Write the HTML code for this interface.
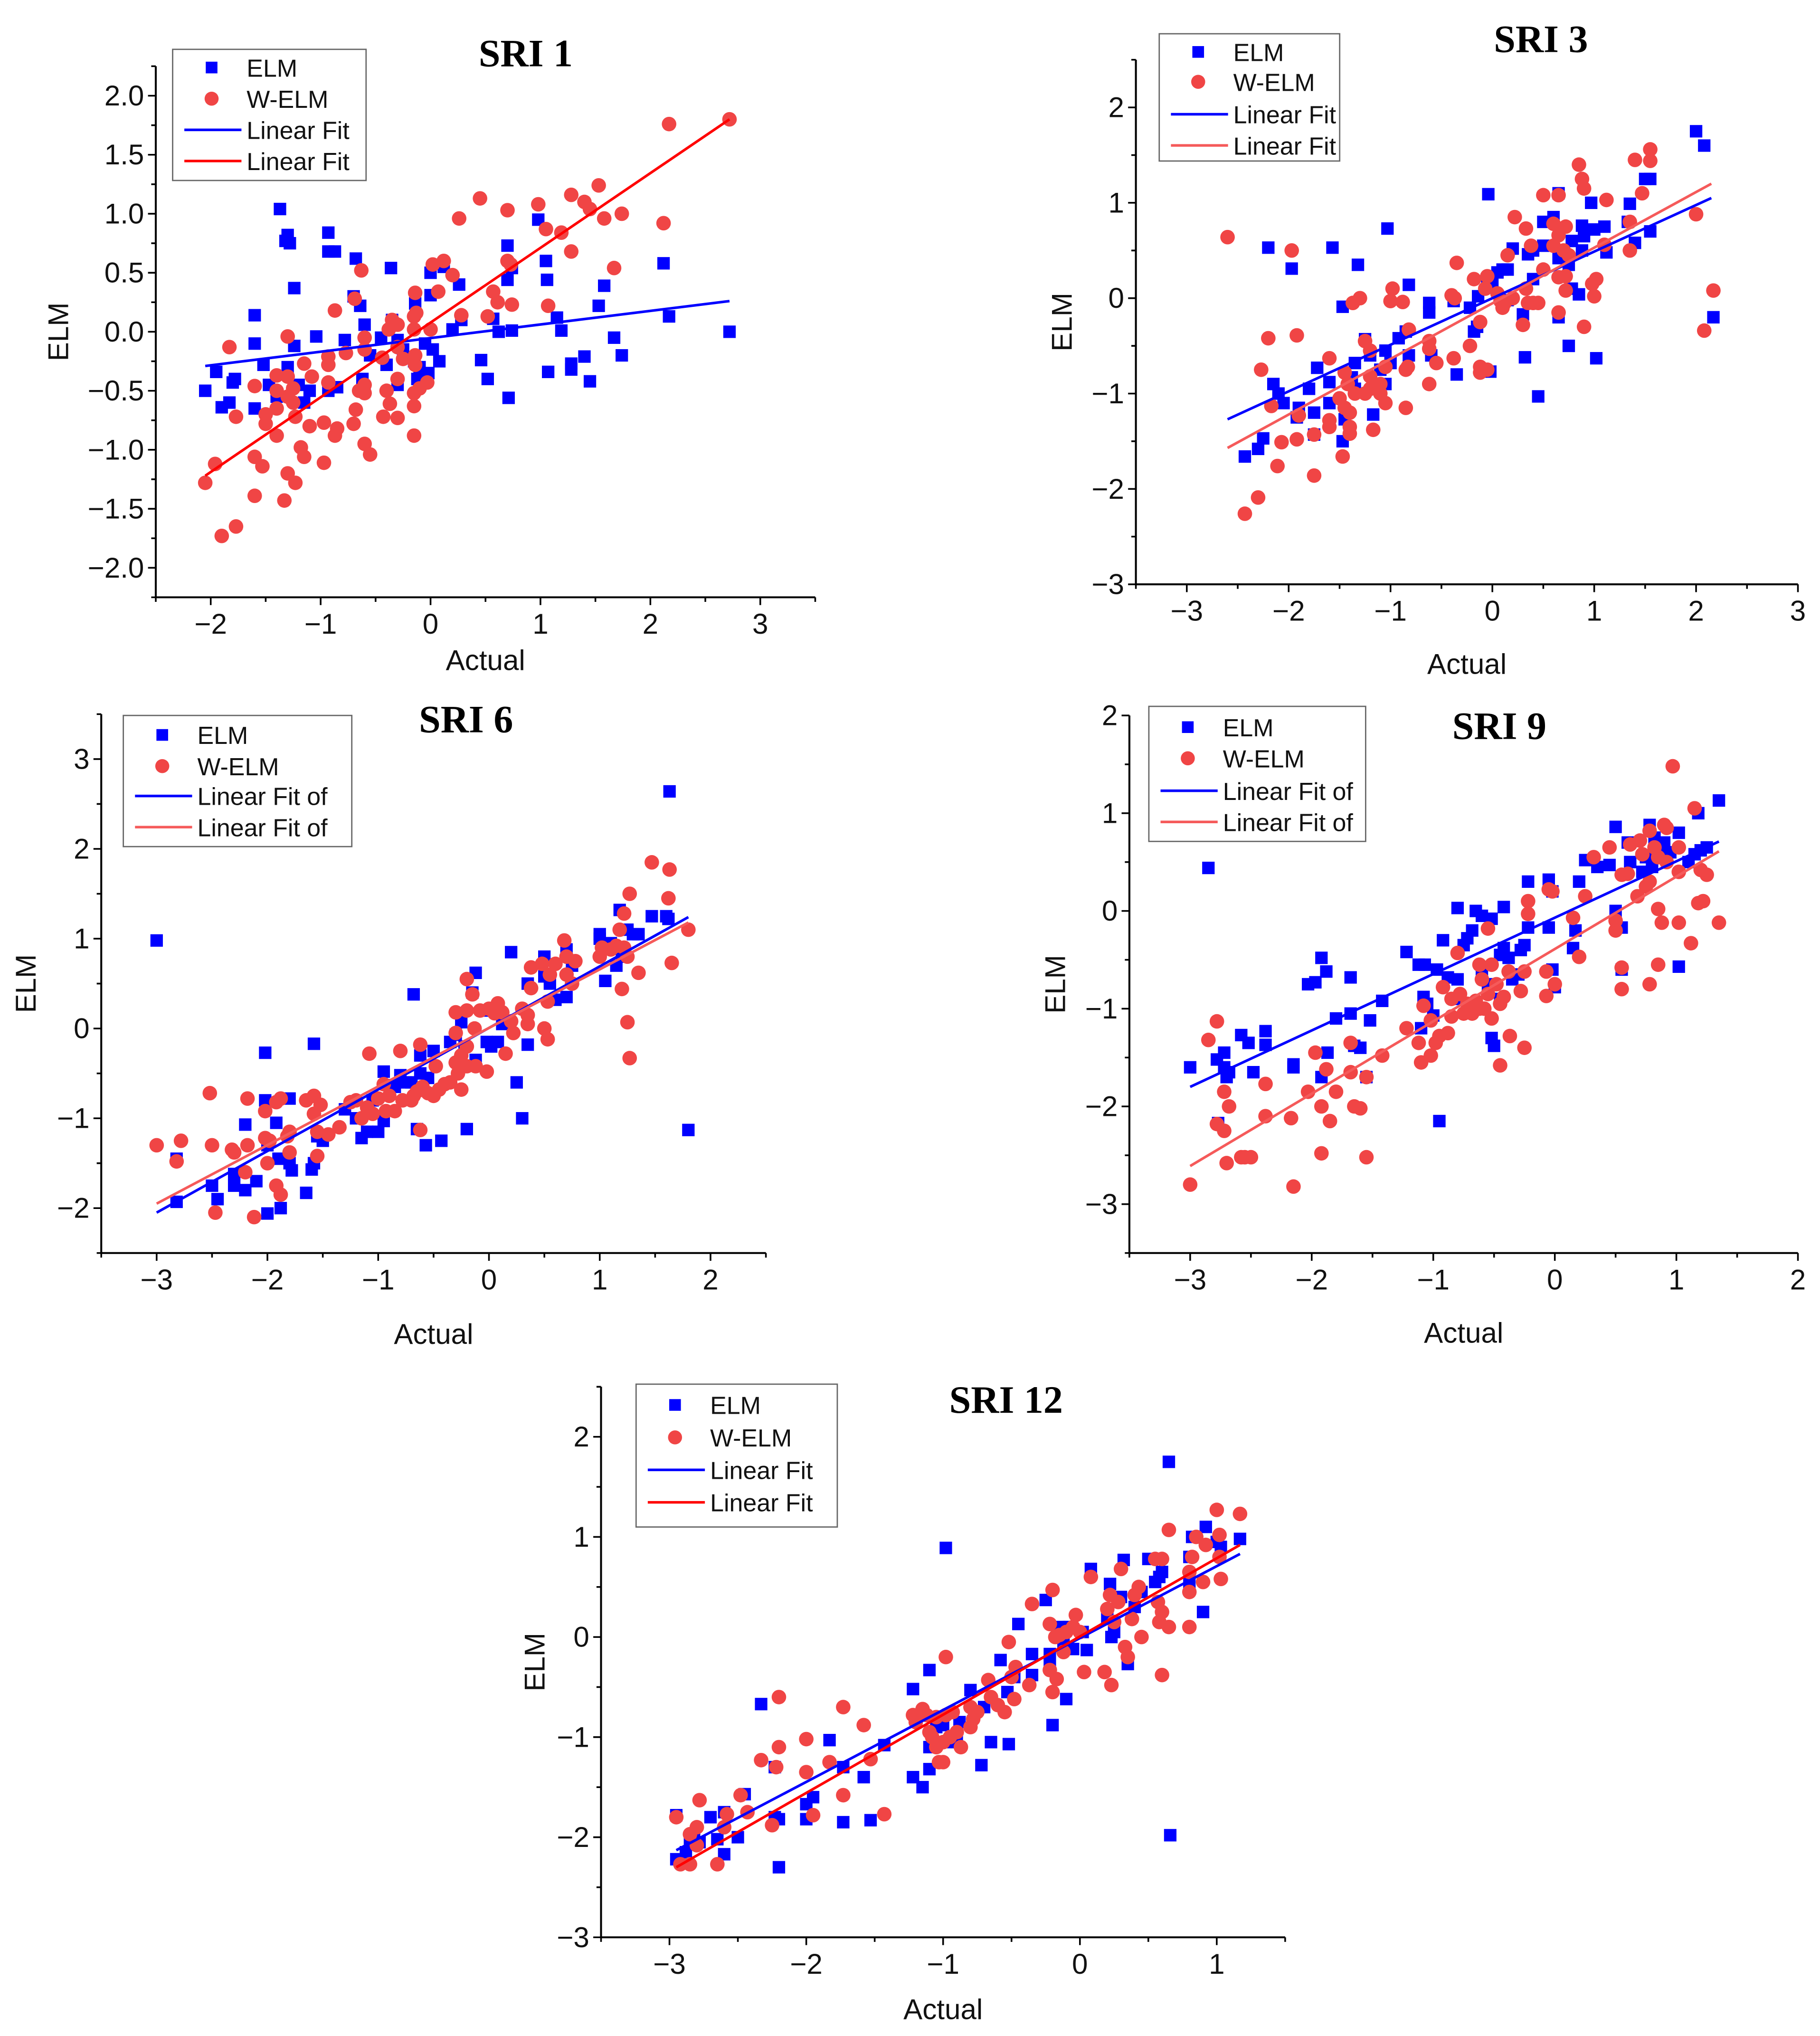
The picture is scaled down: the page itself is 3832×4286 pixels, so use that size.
<!DOCTYPE html>
<html><head><meta charset="utf-8"><style>
html,body{margin:0;padding:0;background:#fff;}
svg{display:block;}
</style></head><body>
<svg id="fig" xmlns="http://www.w3.org/2000/svg" width="3832" height="4286" viewBox="0 0 1402 1568" preserveAspectRatio="none"></svg>
<script>
// ---------- DATA ----------
const sri1Elm=[[-1.37,1.04],[-1.3,0.82],[-1.32,0.77],[-1.28,0.75],[-0.93,0.84],[-0.93,0.68],[-0.87,0.68],[-0.68,0.62],[-0.36,0.54],[-1.24,0.37],[-0.7,0.3],[-0.64,0.22],[-0.6,0.06],[-1.6,0.14],[-1.6,-0.1],[-1.04,-0.04],[-0.78,-0.07],[-1.24,-0.12],[-1.3,-0.3],[-1.52,-0.28],[-1.95,-0.34],[-1.78,-0.4],[-1.8,-0.43],[-2.05,-0.5],[-1.9,-0.64],[-1.83,-0.6],[-1.6,-0.65],[-1.47,-0.45],[-1.4,-0.55],[-1.2,-0.45],[-1.1,-0.5],[-0.93,-0.5],[-0.85,-0.47],[-0.6,-0.47],[-0.62,-0.4],[-0.4,-0.28],[-0.45,-0.05],[-0.3,-0.07],[-0.25,-0.15],[-0.35,0.1],[-0.14,0.24],[-0.12,-0.4],[-0.02,-0.35],[-0.1,-0.3],[0,0.5],[0,0.31],[0.12,0.55],[0.26,0.4],[0.28,0.1],[0.2,0.02],[0.02,-0.15],[0.08,-0.25],[0.46,-0.24],[0.52,-0.4],[0.57,0.11],[0.62,0],[0.7,0.73],[0.7,0.44],[0.74,0.54],[0.74,0.01],[0.71,-0.56],[0.98,0.95],[1.05,0.6],[1.06,0.44],[1.15,0.12],[1.19,0.01],[1.07,-0.34],[1.28,-0.27],[1.28,-0.32],[1.4,-0.21],[1.45,-0.42],[1.53,0.22],[1.58,0.39],[1.67,-0.05],[1.74,-0.2],[2.12,0.58],[2.17,0.13],[2.72,0],[-0.3,-0.45],[-0.15,-0.25],[-1.15,-0.6],[-0.05,-0.1],[-0.55,-0.2]];
const sri1Welm=[[2.72,1.8],[2.17,1.76],[1.53,1.24],[1.28,1.16],[1.4,1.1],[1.45,1.04],[1.58,0.96],[1.74,1.0],[2.12,0.92],[0.98,1.08],[0.7,1.03],[0.45,1.13],[0.26,0.96],[1.05,0.87],[1.19,0.84],[1.28,0.68],[1.67,0.54],[0.7,0.6],[0.73,0.57],[0.02,0.57],[0.12,0.6],[0.2,0.48],[-0.63,0.52],[-0.14,0.33],[0.07,0.34],[0.57,0.34],[0.61,0.25],[0.74,0.23],[1.07,0.22],[0.52,0.13],[0.28,0.14],[-0.69,0.28],[-0.87,0.18],[-0.15,0.13],[-0.13,0.16],[-0.35,0.1],[-0.3,0.06],[-0.38,0.02],[0,0.02],[-0.15,0.02],[-1.83,-0.13],[-1.3,-0.04],[-0.6,-0.05],[-0.6,-0.15],[-0.77,-0.18],[-0.3,-0.13],[-0.93,-0.21],[-1.15,-0.27],[-0.93,-0.28],[-0.44,-0.22],[-0.25,-0.23],[-0.14,-0.2],[-0.14,-0.28],[-1.4,-0.37],[-1.3,-0.38],[-1.08,-0.38],[-0.93,-0.43],[-1.6,-0.46],[-1.4,-0.5],[-1.25,-0.48],[-1.3,-0.55],[-1.25,-0.6],[-0.6,-0.45],[-0.6,-0.52],[-0.65,-0.5],[-0.4,-0.5],[-0.3,-0.4],[-0.15,-0.52],[-0.1,-0.48],[-0.03,-0.43],[-0.37,-0.61],[-0.15,-0.63],[-1.4,-0.65],[-1.5,-0.7],[-1.77,-0.72],[-1.23,-0.72],[-0.68,-0.66],[-0.43,-0.72],[-0.3,-0.73],[-1.5,-0.78],[-0.7,-0.78],[-0.97,-0.77],[-1.1,-0.8],[-0.85,-0.82],[-0.87,-0.88],[-1.4,-0.88],[-0.15,-0.88],[-1.18,-0.98],[-1.15,-1.06],[-0.6,-0.95],[-0.55,-1.04],[-1.6,-1.06],[-1.53,-1.14],[-0.97,-1.11],[-1.96,-1.12],[-2.05,-1.28],[-1.3,-1.2],[-1.23,-1.28],[-1.6,-1.39],[-1.33,-1.43],[-1.77,-1.65],[-1.9,-1.73]];
const sri1FitElm=[[-2.05,-0.29],[2.72,0.26]];
const sri1FitWelm=[[-2.05,-1.22],[2.72,1.8]];

const sri3Elm=[[2.0,1.75],[2.08,1.6],[1.5,1.25],[1.55,1.25],[1.35,0.99],[0.97,1.0],[-0.04,1.09],[0.65,1.1],[0.5,0.8],[0.6,0.85],[0.88,0.76],[1.1,0.75],[1.0,0.72],[0.9,0.65],[1.33,0.8],[1.55,0.7],[1.4,0.58],[1.12,0.48],[0.78,0.6],[0.88,0.5],[-1.03,0.73],[-2.2,0.53],[-1.57,0.53],[-1.97,0.31],[-1.32,0.35],[-0.82,0.14],[0.2,0.52],[0.35,0.46],[0.5,0.55],[0.4,0.5],[0.75,0.35],[0.65,0.42],[0.1,0.3],[0.15,0.3],[0.05,0.27],[0.4,0.2],[0.78,0.1],[0.85,0.04],[-0.05,0.2],[0.0,0.15],[-0.14,0.02],[-1.47,-0.09],[-0.62,-0.05],[-0.62,-0.15],[-0.38,-0.03],[-0.22,-0.1],[0.15,-0.02],[0.3,-0.17],[0.65,-0.2],[-0.18,-0.35],[-0.15,-0.3],[-1.25,-0.43],[-1.05,-0.55],[-0.92,-0.42],[-0.85,-0.35],[-0.82,-0.6],[-0.6,-0.6],[-1.2,-0.6],[-1.35,-0.68],[-1.72,-0.73],[-1.8,-0.95],[-1.6,-0.88],[-1.38,-0.83],[-1.1,-0.75],[-1.0,-0.68],[-2.15,-0.9],[-2.1,-1.0],[-2.05,-1.1],[-1.9,-1.15],[-1.6,-1.1],[-1.75,-1.2],[-1.17,-1.22],[-1.92,-1.25],[-1.45,-1.27],[-1.75,-1.43],[-1.47,-1.5],[-2.25,-1.47],[-2.3,-1.58],[-2.43,-1.66],[-0.35,-0.8],[-0.02,-0.77],[0.32,-0.62],[0.45,-1.03],[1.02,-0.63],[0.75,-0.5],[2.17,-0.2],[-1.35,-0.95],[-1.05,-0.9]];
const sri3Welm=[[-2.6,0.64],[-1.97,0.5],[-2.2,-0.42],[-1.92,-0.39],[-2.27,-0.75],[-2.17,-1.13],[-1.9,-1.23],[-1.92,-1.48],[-2.07,-1.51],[-2.11,-1.76],[-1.75,-1.86],[-2.3,-2.09],[-2.43,-2.26],[-1.47,-1.66],[-1.75,-1.43],[-1.6,-1.35],[-1.6,-1.28],[-1.4,-1.42],[-1.4,-1.35],[-1.17,-1.38],[-1.5,-1.05],[-1.45,-1.15],[-1.4,-1.2],[-1.42,-0.9],[-1.35,-1.0],[-1.2,-0.95],[-1.25,-1.0],[-1.1,-1.0],[-1.05,-1.1],[-0.85,-1.15],[-1.1,-0.9],[-1.05,-0.72],[-0.85,-0.75],[-0.83,-0.72],[-1.2,-0.82],[-1.25,-0.45],[-1.2,-0.55],[-1.6,-0.63],[-1.45,-0.78],[-0.82,-0.33],[-0.62,-0.45],[-0.62,-0.53],[-0.55,-0.68],[-0.62,-0.9],[-0.38,-0.63],[-0.22,-0.5],[-0.12,-0.25],[-0.12,-0.72],[-0.05,-0.75],[-0.12,-0.78],[-1.37,-0.05],[-1.3,0.0],[-0.98,0.1],[-1.0,-0.03],[-0.88,-0.04],[-0.35,0.37],[-0.4,0.03],[-0.37,0.0],[-0.18,0.2],[-0.05,0.23],[-0.07,0.1],[0.05,0.05],[0.08,-0.03],[0.1,-0.1],[0.12,-0.05],[0.2,0.0],[0.15,0.45],[0.22,0.85],[0.33,0.73],[0.38,0.55],[0.33,0.1],[0.35,-0.05],[0.4,-0.05],[0.45,-0.05],[0.3,-0.28],[0.5,0.3],[0.5,1.08],[0.65,1.08],[0.6,0.78],[0.65,0.66],[0.7,0.5],[0.72,0.75],[0.75,0.45],[0.6,0.55],[0.65,0.22],[0.72,0.23],[0.72,0.08],[0.65,-0.15],[0.9,-0.3],[0.85,1.4],[0.88,1.25],[0.9,1.15],[1.12,1.03],[0.98,0.15],[1.0,0.02],[1.02,0.2],[1.1,0.56],[1.35,0.8],[1.35,0.5],[1.4,1.45],[1.47,1.1],[1.55,1.44],[1.55,1.56],[2.0,0.88],[2.08,-0.34],[2.17,0.08]];
const sri3FitElm=[[-2.6,-1.27],[2.15,1.05]];
const sri3FitWelm=[[-2.6,-1.57],[2.15,1.2]];

const sri6Elm=[[-3,0.98],[-2.82,-1.45],[-2.82,-1.93],[-2.5,-1.75],[-2.45,-1.9],[-2.3,-1.62],[-2.3,-1.75],[-2.2,-1.8],[-2.2,-1.07],[-2.1,-1.7],[-2.02,-0.27],[-2.02,-0.8],[-2.0,-1.3],[-2.0,-2.06],[-1.92,-1.05],[-1.9,-1.45],[-1.88,-2.0],[-1.8,-0.78],[-1.8,-1.5],[-1.78,-1.58],[-1.65,-1.83],[-1.6,-1.57],[-1.58,-1.5],[-1.58,-0.17],[-1.55,-1.2],[-1.5,-1.25],[-1.3,-0.9],[-1.2,-1.0],[-1.15,-1.22],[-1.1,-1.15],[-1.05,-0.8],[-1.0,-1.15],[-0.95,-1.03],[-0.95,-0.48],[-0.9,-0.63],[-0.85,-0.65],[-0.8,-0.52],[-0.75,-0.6],[-0.7,-0.6],[-0.68,0.38],[-0.65,-1.12],[-0.62,-0.3],[-0.62,-0.5],[-0.57,-1.3],[-0.55,-0.55],[-0.5,-0.25],[-0.43,-1.25],[-0.35,-0.15],[-0.3,-0.07],[-0.25,0.07],[-0.22,-0.2],[-0.2,-1.12],[-0.15,0.4],[-0.12,0.62],[-0.12,-0.35],[-0.05,0.2],[-0.02,-0.15],[0.02,-0.2],[0.08,-0.15],[0.12,0.05],[0.2,0.85],[0.25,-0.6],[0.3,-1.0],[0.35,-0.18],[0.35,0.5],[0.5,0.8],[0.5,0.58],[0.55,0.5],[0.6,0.32],[0.7,0.35],[0.7,0.88],[0.75,0.7],[1.0,1.0],[1.0,1.05],[1.05,0.53],[1.1,0.95],[1.15,0.7],[1.18,1.32],[1.2,0.8],[1.25,1.1],[1.3,1.05],[1.35,1.05],[1.47,1.25],[1.6,1.25],[1.62,1.22],[1.63,2.64],[1.8,-1.13]];
const sri6Welm=[[-3,-1.3],[-2.82,-1.48],[-2.78,-1.25],[-2.52,-0.72],[-2.5,-1.3],[-2.47,-2.05],[-2.32,-1.35],[-2.3,-1.38],[-2.18,-0.78],[-2.18,-1.3],[-2.2,-1.6],[-2.12,-2.1],[-2.02,-0.92],[-2.02,-1.22],[-2.0,-1.5],[-1.98,-1.25],[-1.92,-0.82],[-1.88,-0.78],[-1.92,-1.75],[-1.88,-1.85],[-1.82,-1.2],[-1.8,-1.15],[-1.8,-1.38],[-1.65,-0.8],[-1.58,-0.75],[-1.58,-0.95],[-1.55,-1.15],[-1.55,-1.42],[-1.52,-0.85],[-1.45,-1.18],[-1.35,-1.1],[-1.25,-0.82],[-1.2,-0.8],[-1.15,-1.0],[-1.1,-0.88],[-1.08,-0.28],[-1.05,-0.95],[-1.0,-0.78],[-0.95,-0.62],[-0.93,-0.92],[-0.9,-0.75],[-0.85,-0.92],[-0.8,-0.25],[-0.78,-0.8],[-0.7,-0.8],[-0.68,-0.75],[-0.65,-0.7],[-0.62,-0.18],[-0.62,-1.13],[-0.6,-0.65],[-0.55,-0.72],[-0.5,-0.75],[-0.48,-0.42],[-0.45,-0.68],[-0.4,-0.62],[-0.35,-0.6],[-0.3,-0.38],[-0.3,0.18],[-0.3,-0.05],[-0.28,-0.5],[-0.25,-0.68],[-0.25,-0.3],[-0.2,-0.42],[-0.2,-0.2],[-0.2,0.2],[-0.2,0.55],[-0.15,0.38],[-0.13,0.0],[-0.12,-0.42],[-0.08,0.2],[-0.02,-0.48],[0.0,0.22],[0.05,0.17],[0.08,0.28],[0.12,0.18],[0.15,-0.28],[0.2,0.08],[0.22,-0.05],[0.3,0.22],[0.35,0.15],[0.35,0.05],[0.38,0.45],[0.38,0.68],[0.48,0.72],[0.5,0.0],[0.53,-0.12],[0.53,0.3],[0.55,0.6],[0.6,0.72],[0.68,0.98],[0.7,0.8],[0.7,0.6],[0.75,0.5],[0.78,0.75],[1.0,0.8],[1.02,0.9],[1.1,0.88],[1.15,0.92],[1.18,1.1],[1.2,0.44],[1.22,1.28],[1.22,0.9],[1.25,0.8],[1.25,0.07],[1.27,-0.33],[1.27,1.5],[1.35,0.62],[1.47,1.85],[1.62,1.45],[1.63,1.77],[1.65,0.73],[1.8,1.1]];
const sri6FitElm=[[-3,-2.05],[1.8,1.24]];
const sri6FitWelm=[[-3,-1.95],[1.8,1.18]];

const sri9Elm=[[-2.85,0.44],[-3,-1.6],[-2.78,-1.52],[-2.72,-1.45],[-2.72,-1.6],[-2.7,-1.7],[-2.68,-1.65],[-2.58,-1.27],[-2.52,-1.35],[-2.48,-1.65],[-2.38,-1.23],[-2.38,-1.37],[-2.77,-2.17],[-2.15,-1.57],[-2.15,-1.6],[-2.03,-0.75],[-1.97,-0.73],[-1.92,-0.48],[-1.88,-0.62],[-1.87,-1.45],[-1.92,-1.7],[-1.8,-1.1],[-1.68,-0.68],[-1.68,-1.05],[-1.65,-1.38],[-1.6,-1.4],[-1.55,-1.7],[-1.52,-1.12],[-1.42,-0.92],[-1.22,-0.42],[-1.12,-0.55],[-1.07,-0.55],[-1.08,-0.88],[-1.1,-1.2],[-1.05,-0.95],[-1.0,-1.07],[-0.97,-0.6],[-0.95,-2.15],[-0.92,-0.3],[-0.88,-0.68],[-0.8,0.03],[-0.8,-0.7],[-0.78,-0.9],[-0.75,-0.35],[-0.72,-0.28],[-0.68,-0.2],[-0.65,0.0],[-0.6,-0.05],[-0.6,-0.6],[-0.55,-0.75],[-0.52,-0.08],[-0.52,-1.3],[-0.5,-1.38],[-0.45,-0.45],[-0.45,-0.9],[-0.42,0.04],[-0.42,-0.38],[-0.38,-0.48],[-0.35,-0.7],[-0.3,-0.65],[-0.28,-0.4],[-0.25,-0.35],[-0.22,0.3],[-0.22,-0.17],[-0.05,0.32],[-0.05,-0.17],[-0.02,0.2],[-0.02,-0.6],[0.0,-0.78],[0.15,-0.38],[0.17,-0.2],[0.2,0.3],[0.25,0.52],[0.35,0.45],[0.45,0.47],[0.5,0.0],[0.5,0.86],[0.55,-0.17],[0.55,-0.6],[0.6,0.7],[0.62,0.5],[0.72,0.4],[0.75,0.55],[0.78,0.88],[0.8,0.45],[0.82,0.75],[0.88,0.6],[0.9,0.7],[0.95,0.6],[1.02,0.8],[1.02,-0.57],[1.1,0.5],[1.15,0.58],[1.18,1.0],[1.2,0.62],[1.25,0.65],[1.35,1.13]];
const sri9Welm=[[-3,-2.8],[-2.85,-1.32],[-2.78,-1.13],[-2.72,-1.85],[-2.68,-2.0],[-2.78,-2.18],[-2.72,-2.25],[-2.7,-2.58],[-2.58,-2.52],[-2.55,-2.52],[-2.5,-2.52],[-2.38,-1.77],[-2.38,-2.1],[-2.17,-2.12],[-2.15,-2.82],[-2.03,-1.85],[-1.97,-1.45],[-1.92,-2.0],[-1.92,-2.48],[-1.88,-1.62],[-1.85,-2.15],[-1.8,-1.85],[-1.68,-1.35],[-1.68,-1.65],[-1.65,-2.0],[-1.6,-2.02],[-1.55,-1.7],[-1.55,-2.52],[-1.42,-1.48],[-1.22,-1.2],[-1.12,-1.35],[-1.1,-1.55],[-1.08,-0.97],[-1.02,-1.12],[-1.02,-1.48],[-0.98,-1.35],[-0.95,-1.28],[-0.92,-0.78],[-0.88,-1.25],[-0.85,-0.9],[-0.85,-1.08],[-0.8,-0.43],[-0.78,-0.85],[-0.75,-1.05],[-0.72,-0.95],[-0.68,-1.05],[-0.65,-0.92],[-0.62,-0.55],[-0.62,-1.0],[-0.6,-0.7],[-0.58,-1.0],[-0.55,-0.18],[-0.55,-0.85],[-0.52,-0.55],[-0.52,-1.1],[-0.48,-0.75],[-0.45,-0.95],[-0.45,-1.58],[-0.42,-0.88],[-0.38,-0.62],[-0.37,-1.28],[-0.28,-0.82],[-0.25,-0.62],[-0.25,-1.4],[-0.22,-0.03],[-0.22,0.1],[-0.07,-0.62],[-0.07,-0.87],[-0.05,0.22],[-0.02,0.2],[0.0,-0.75],[0.15,-0.07],[0.2,-0.47],[0.25,0.15],[0.32,0.55],[0.45,0.65],[0.5,-0.1],[0.5,-0.2],[0.55,0.37],[0.55,-0.58],[0.55,-0.8],[0.6,0.38],[0.62,0.68],[0.68,0.15],[0.7,0.72],[0.72,0.58],[0.75,0.25],[0.78,0.82],[0.78,0.3],[0.78,-0.75],[0.82,0.65],[0.85,0.55],[0.85,0.02],[0.85,-0.55],[0.88,-0.12],[0.9,0.88],[0.92,0.85],[0.92,0.5],[0.97,1.48],[1.02,0.65],[1.02,0.4],[1.02,-0.12],[1.12,-0.33],[1.15,1.05],[1.18,0.08],[1.2,0.42],[1.22,0.1],[1.25,0.37],[1.35,-0.12]];
const sri9FitElm=[[-3,-1.8],[1.35,0.71]];
const sri9FitWelm=[[-3,-2.61],[1.35,0.61]];

const sri12Elm=[[-2.95,-1.78],[-2.95,-2.22],[-2.88,-2.15],[-2.85,-2.05],[-2.82,-1.98],[-2.78,-2.05],[-2.7,-1.8],[-2.65,-2.02],[-2.6,-1.75],[-2.6,-2.17],[-2.5,-2.0],[-2.45,-1.57],[-2.33,-0.67],[-2.23,-1.3],[-2.23,-1.8],[-2.2,-1.82],[-2.2,-2.3],[-2.0,-1.67],[-2.0,-1.82],[-1.95,-1.6],[-1.83,-1.03],[-1.73,-1.3],[-1.73,-1.85],[-1.58,-1.4],[-1.53,-1.83],[-1.43,-1.08],[-1.22,-0.52],[-1.22,-1.4],[-1.15,-1.5],[-1.1,-0.33],[-1.1,-1.1],[-1.1,-1.32],[-1.05,-0.9],[-1.0,-0.88],[-0.98,-1.05],[-0.98,0.89],[-0.9,-1.05],[-0.88,-0.85],[-0.8,-0.53],[-0.72,-1.28],[-0.7,-0.7],[-0.65,-1.05],[-0.58,-0.23],[-0.53,-0.55],[-0.52,-1.07],[-0.48,-0.4],[-0.45,0.13],[-0.35,-0.38],[-0.35,-0.17],[-0.25,0.37],[-0.22,-0.25],[-0.22,-0.17],[-0.2,-0.88],[-0.15,0.1],[-0.12,-0.05],[-0.1,-0.62],[-0.08,0.1],[-0.05,-0.12],[0.02,0.05],[0.05,-0.13],[0.08,0.68],[0.2,0.2],[0.22,0.53],[0.23,0.0],[0.25,0.05],[0.3,0.4],[0.32,0.77],[0.35,-0.27],[0.4,0.3],[0.45,0.45],[0.5,0.78],[0.55,0.55],[0.58,0.6],[0.6,0.65],[0.65,1.75],[0.66,-1.98],[0.8,0.55],[0.8,0.8],[0.82,1.0],[0.9,0.25],[0.92,1.1],[1.0,0.95],[1.03,0.9],[1.17,0.98]];
const sri12Welm=[[-2.95,-1.8],[-2.92,-2.27],[-2.85,-2.27],[-2.85,-1.97],[-2.8,-1.9],[-2.8,-2.08],[-2.78,-1.63],[-2.65,-2.27],[-2.6,-1.9],[-2.58,-1.77],[-2.48,-1.58],[-2.43,-1.75],[-2.33,-1.23],[-2.25,-1.88],[-2.22,-1.3],[-2.2,-1.1],[-2.2,-0.6],[-2.0,-1.02],[-2.0,-1.35],[-1.95,-1.78],[-1.83,-1.25],[-1.73,-0.7],[-1.73,-1.58],[-1.58,-0.88],[-1.53,-1.22],[-1.43,-1.77],[-1.22,-0.78],[-1.2,-0.85],[-1.15,-0.72],[-1.12,-0.78],[-1.1,-0.95],[-1.08,-1.0],[-1.05,-0.8],[-1.05,-1.1],[-1.03,-1.25],[-1.0,-1.05],[-1.0,-1.25],[-0.98,-0.78],[-0.98,-0.2],[-0.95,-1.0],[-0.93,-0.75],[-0.9,-0.95],[-0.87,-1.1],[-0.8,-0.7],[-0.8,-0.9],[-0.78,-0.82],[-0.75,-0.75],[-0.67,-0.43],[-0.65,-0.6],[-0.6,-0.68],[-0.55,-0.75],[-0.52,-0.05],[-0.5,-0.4],[-0.48,-0.62],[-0.47,-0.3],[-0.37,-0.48],[-0.35,0.33],[-0.22,0.13],[-0.22,-0.33],[-0.2,-0.55],[-0.2,0.47],[-0.18,0.0],[-0.17,-0.42],[-0.15,0.02],[-0.12,-0.15],[-0.1,0.05],[-0.05,0.1],[-0.03,0.22],[0.0,0.05],[0.03,-0.35],[0.08,0.6],[0.18,-0.35],[0.2,0.28],[0.22,0.42],[0.23,-0.48],[0.25,0.15],[0.28,0.35],[0.3,0.68],[0.33,-0.1],[0.35,-0.2],[0.38,0.18],[0.4,0.42],[0.43,0.5],[0.45,0.0],[0.55,0.78],[0.57,0.35],[0.58,0.15],[0.6,0.25],[0.6,0.78],[0.6,-0.38],[0.65,1.07],[0.65,0.1],[0.8,0.1],[0.8,0.65],[0.8,0.45],[0.82,0.8],[0.85,1.0],[0.9,0.55],[0.92,0.92],[1.0,1.27],[1.02,0.8],[1.02,1.02],[1.03,0.58],[1.17,1.23]];
const sri12FitElm=[[-2.95,-2.13],[1.17,0.83]];
const sri12FitWelm=[[-2.95,-2.3],[1.17,0.92]];

const sri1XTicks=[-2,-1,0,1,2,3];
const sri1YTicks=[-2,-1.5,-1,-0.5,0,0.5,1,1.5,2];
const sri3XTicks=[-3,-2,-1,0,1,2,3];
const sri3YTicks=[-3,-2,-1,0,1,2];
const sri6XTicks=[-3,-2,-1,0,1,2];
const sri6YTicks=[-2,-1,0,1,2,3];
const sri9XTicks=[-3,-2,-1,0,1,2];
const sri9YTicks=[-3,-2,-1,0,1,2];
const sri12XTicks=[-3,-2,-1,0,1];
const sri12YTicks=[-3,-2,-1,0,1,2];

// ---------- LAYOUT ----------
const NS='http://www.w3.org/2000/svg';
const svg=document.getElementById('fig');
const BLUE='#0000ff', RED='#f04545';
function mk(tag,attrs,parent){const e=document.createElementNS(NS,tag);for(const k in attrs)e.setAttribute(k,attrs[k]);(parent||svg).appendChild(e);return e;}
function fmt(v,dec){let s=dec?v.toFixed(1):String(v);return s.replace('-','\u2212');}

const panels=[
 {id:'sri1',title:'SRI 1',L:120,R:628,T:51,B:460,x0:-2.5,x1:3.5,y0:-2.25,y1:2.25,xt:sri1XTicks,yt:sri1YTicks,xm:0.5,ym:0.25,dec:true,elm:sri1Elm,welm:sri1Welm,fe:sri1FitElm,fw:sri1FitWelm,fitRed:'#ff0000',
  tx:405,ty:51,leg:[133,38,149,101],legY:[52,76,100,124],legLab:'Linear Fit',ylx:45,xly:516},
 {id:'sri3',title:'SRI 3',L:875,R:1385,T:46,B:450,x0:-3.5,x1:3,y0:-3,y1:2.5,xt:sri3XTicks,yt:sri3YTicks,xm:0.5,ym:0.5,dec:false,elm:sri3Elm,welm:sri3Welm,fe:sri3FitElm,fw:sri3FitWelm,fitRed:'#f55a5a',
  tx:1187,ty:40,leg:[893,26,139,98],legY:[40,63,88,112],legLab:'Linear Fit',ylx:818,xly:519},
 {id:'sri6',title:'SRI 6',L:78,R:590,T:550,B:965,x0:-3.5,x1:2.5,y0:-2.5,y1:3.5,xt:sri6XTicks,yt:sri6YTicks,xm:0.5,ym:0.5,dec:false,elm:sri6Elm,welm:sri6Welm,fe:sri6FitElm,fw:sri6FitWelm,fitRed:'#f55a5a',
  tx:359,ty:564,leg:[95,551,176,101],legY:[566,590,613,637],legLab:'Linear Fit of',ylx:20,xly:1035},
 {id:'sri9',title:'SRI 9',L:870,R:1385,T:551,B:965,x0:-3.5,x1:2,y0:-3.5,y1:2,xt:sri9XTicks,yt:sri9YTicks,xm:0.5,ym:0.5,dec:false,elm:sri9Elm,welm:sri9Welm,fe:sri9FitElm,fw:sri9FitWelm,fitRed:'#f55a5a',
  tx:1155,ty:569,leg:[885,544,167,104],legY:[560,584,609,633],legLab:'Linear Fit of',ylx:813,xly:1034},
 {id:'sri12',title:'SRI 12',L:463,R:990,T:1068,B:1492,x0:-3.5,x1:1.5,y0:-3,y1:2.5,xt:sri12XTicks,yt:sri12YTicks,xm:0.5,ym:0.5,dec:false,elm:sri12Elm,welm:sri12Welm,fe:sri12FitElm,fw:sri12FitWelm,fitRed:'#ff0000',
  tx:775,ty:1088,leg:[490,1066,155,110],legY:[1082,1107,1132,1157],legLab:'Linear Fit',ylx:412,xly:1555}
];

panels.forEach(p=>{
  const g=mk('g',{});
  
  
  const sx=v=>p.L+(v-p.x0)/(p.x1-p.x0)*(p.R-p.L);
  const sy=v=>p.B-(v-p.y0)/(p.y1-p.y0)*(p.B-p.T);
  const ax=mk('path',{d:`M${p.L},${p.T}V${p.B}H${p.R}`,fill:'none',stroke:'#000','stroke-width':1.5},g);
  
  
  let d='';
  for(let v=p.x0;v<=p.x1+1e-9;v+=p.xm){d+=`M${sx(v)},${p.B}v${p.xt.some(t=>Math.abs(t-v)<1e-9)?6:3.5}`;}
  for(let v=p.y0;v<=p.y1+1e-9;v+=p.ym){d+=`M${p.L},${sy(v)}h${p.yt.some(t=>Math.abs(t-v)<1e-9)?-6:-3.5}`;}
  const tk=mk('path',{d:d,stroke:'#000','stroke-width':1.3,fill:'none'},g);
  
  
  p.xt.forEach(v=>{const t=mk('text',{x:sx(v),y:p.B+28,'text-anchor':'middle','font-family':'Liberation Sans, sans-serif','font-size':22,fill:'#111'},g);t.textContent=fmt(v,false);
    
    });
  p.yt.forEach(v=>{const t=mk('text',{x:p.L-9,y:sy(v)+7.5,'text-anchor':'end','font-family':'Liberation Sans, sans-serif','font-size':22,fill:'#111'},g);t.textContent=fmt(v,p.dec);
    
    });
  const xl=mk('text',{x:(p.L+p.R)/2,y:p.xly,'text-anchor':'middle','font-family':'Liberation Sans, sans-serif','font-size':22,fill:'#111'},g);
  xl.textContent='Actual';
  
  
  const yc=(p.T+p.B)/2;
  const yl=mk('text',{x:p.ylx,y:yc,'text-anchor':'middle','font-family':'Liberation Sans, sans-serif','font-size':22,fill:'#111',transform:`rotate(-90 ${p.ylx} ${yc})`,'dominant-baseline':'central'},g);
  yl.textContent='ELM';
  
  
  const tt=mk('text',{x:p.tx,y:p.ty,'text-anchor':'middle','font-family':'Liberation Serif, serif','font-size':30,'font-weight':'bold',fill:'#000'},g);
  tt.textContent=p.title;
  
  
  p.elm.forEach(pt=>{const r=mk('rect',{x:sx(pt[0])-4.8,y:sy(pt[1])-4.8,width:9.6,height:9.6,fill:BLUE},g);
    
    });
  p.welm.forEach(pt=>{const c=mk('circle',{cx:sx(pt[0]),cy:sy(pt[1]),r:5.6,fill:RED},g);
    
    });
  const l1=mk('line',{x1:sx(p.fe[0][0]),y1:sy(p.fe[0][1]),x2:sx(p.fe[1][0]),y2:sy(p.fe[1][1]),stroke:BLUE,'stroke-width':2},g);
  
  
  const l2=mk('line',{x1:sx(p.fw[0][0]),y1:sy(p.fw[0][1]),x2:sx(p.fw[1][0]),y2:sy(p.fw[1][1]),stroke:p.fitRed,'stroke-width':2},g);
  
  
  const lg=mk('g',{},g);
  
  
  const [lx,ly,lw,lh]=p.leg;
  mk('rect',{x:lx,y:ly,width:lw,height:lh,fill:'#fff',stroke:'#666','stroke-width':1},lg);
  const mx=lx+30, tx=lx+57;
  mk('rect',{x:mx-4.5,y:p.legY[0]-4.5,width:9,height:9,fill:BLUE},lg);
  mk('circle',{cx:mx,cy:p.legY[1],r:5.4,fill:RED},lg);
  mk('line',{x1:lx+9,y1:p.legY[2],x2:lx+53,y2:p.legY[2],stroke:BLUE,'stroke-width':2},lg);
  mk('line',{x1:lx+9,y1:p.legY[3],x2:lx+53,y2:p.legY[3],stroke:p.fitRed,'stroke-width':2},lg);
  ['ELM','W-ELM',p.legLab,p.legLab].forEach((s,i)=>{const t=mk('text',{x:tx,y:p.legY[i]+7,'font-family':'Liberation Sans, sans-serif','font-size':19,fill:'#111'},lg);t.textContent=s;
    
    });
});
</script>
</body></html>
